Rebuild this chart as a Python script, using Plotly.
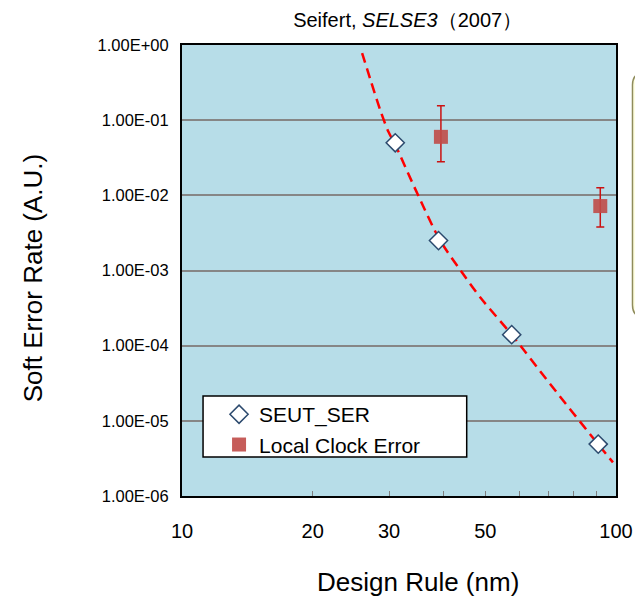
import plotly.graph_objects as go

# ---- data ----
seut_x = [31, 39, 57.5, 91]
seut_y = [0.05, 0.0025, 1.4e-4, 4.9e-6]

lce_x = [39.5, 92]
lce_y = [0.06, 0.0072]
lce_hi = [0.155, 0.0126]
lce_lo = [0.028, 0.0038]

fit_x = [26.0, 27.2, 28.7, 29.9, 31.0, 34.5, 39.2, 43.9, 48.8, 57.5, 70.8, 90.9, 98.4]
fit_y = [0.78, 0.34, 0.13, 0.070, 0.047, 0.012, 0.0026, 9.9e-4, 4.3e-4, 1.4e-4, 3.0e-5, 4.9e-6, 2.8e-6]

x_ticks = [10, 20, 30, 50, 100]
x_minor = [40, 60, 70, 80, 90]
y_ticks = [1e-6, 1e-5, 1e-4, 1e-3, 1e-2, 1e-1, 1e0]
y_labels = ["1.00E-06", "1.00E-05", "1.00E-04", "1.00E-03", "1.00E-02", "1.00E-01", "1.00E+00"]

FONT = "Arial, Liberation Sans, sans-serif"

fig = go.Figure()

fig.add_trace(go.Scatter(
    x=fit_x, y=fit_y, mode="lines", showlegend=False,
    line=dict(color="#FF0000", width=2.5, dash="10px,6px", shape="spline", smoothing=0.8),
    hoverinfo="skip"))

fig.add_trace(go.Scatter(
    x=seut_x, y=seut_y, mode="markers", name="SEUT_SER", legendgroup="a",
    marker=dict(symbol="diamond", size=14, color="white",
                line=dict(color="#2C4A6E", width=1.5))))

fig.add_trace(go.Scatter(
    x=lce_x, y=lce_y, mode="markers", name="Local Clock Error", legendgroup="b",
    marker=dict(symbol="square", size=14, color="rgba(192,75,72,0.9)"),
    error_y=dict(type="data", symmetric=False,
                 array=[h - v for h, v in zip(lce_hi, lce_y)],
                 arrayminus=[v - l for l, v in zip(lce_lo, lce_y)],
                 color="#CC1111", thickness=1.5, width=4)))

shapes = [
    # legend box
    dict(type="rect", xref="paper", yref="paper",
         x0=0.0485, x1=0.656, y0=0.0865, y1=0.2217,
         fillcolor="white", line=dict(color="black", width=1.5), layer="above"),
    # yellow callout box (partially visible at right edge)
    dict(type="path", xref="paper", yref="paper",
         path="M 1.064 0.9379 L 1.25 0.9379 L 1.25 0.3969 L 1.064 0.3969 "
              "Q 1.038 0.3969 1.038 0.4235 L 1.038 0.9113 Q 1.038 0.9379 1.064 0.9379 Z",
         fillcolor="#FFFFE3", line=dict(color="#8F8C5C", width=1.5), layer="above"),
]

annotations = [
    dict(text="Design Rule (nm)", xref="paper", yref="paper", x=0.544, y=-0.190,
         xanchor="center", yanchor="middle", showarrow=False, font=dict(size=26)),
    dict(text="Soft Error Rate (A.U.)", xref="paper", yref="paper", x=-0.343, y=0.483,
         xanchor="center", yanchor="middle", textangle=-90, showarrow=False,
         font=dict(size=26)),
]

fig.update_layout(
    width=635, height=602,
    margin=dict(l=182, r=19, t=45, b=106, autoexpand=False),
    paper_bgcolor="white", plot_bgcolor="#B7DDE8",
    font=dict(family=FONT, size=17, color="black"),
    title=dict(text="Seifert, <i>SELSE3</i>（2007）", x=0.642, xanchor="center",
               y=0.967, yanchor="middle", font=dict(size=20, family=FONT)),
    showlegend=True,
    legend=dict(x=0.0485, y=0.226, xanchor="left", yanchor="top",
                bgcolor="rgba(0,0,0,0)", borderwidth=0, font=dict(size=21),
                tracegroupgap=0, indentation=16),
    shapes=shapes,
    annotations=annotations,
)

fig.update_xaxes(
    type="log", range=[1, 2], automargin=False,
    tickvals=x_ticks, ticktext=[str(v) for v in x_ticks],
    ticks="inside", ticklen=5, tickcolor="#7F7F7F", tickwidth=1,
    minor=dict(tickvals=x_minor, ticks="inside", ticklen=5, tickcolor="#7F7F7F", tickwidth=1),
    showgrid=False, zeroline=False,
    showline=True, linecolor="black", linewidth=2, mirror=True,
    tickfont=dict(size=20), ticklabelstandoff=16,
)

fig.update_yaxes(
    type="log", range=[-6, 0], automargin=False,
    tickvals=y_ticks, ticktext=y_labels,
    ticks="", showgrid=True, gridcolor="#868686", gridwidth=1.5,
    zeroline=False,
    showline=True, linecolor="black", linewidth=2, mirror=True,
    tickfont=dict(size=16.5), ticklabelstandoff=8,
)

fig.write_html("out.html")
